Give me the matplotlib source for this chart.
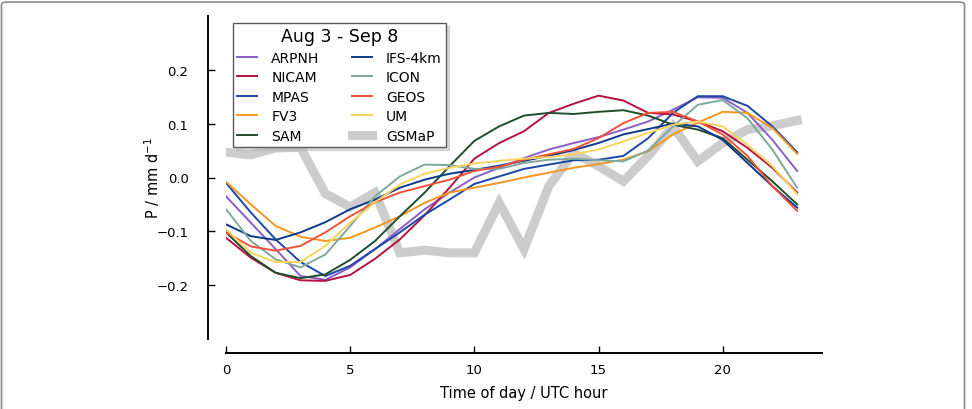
import matplotlib
matplotlib.use("Agg")
import matplotlib.pyplot as plt
from matplotlib import patches

# diurnal cycle of precipitation anomaly, hourly
hours = list(range(24))

arpnh = [-0.035, -0.084, -0.133, -0.183, -0.19, -0.167, -0.133, -0.096, -0.059, -0.028, 0.0, 0.018,
         0.036, 0.052, 0.064, 0.075, 0.089, 0.104, 0.126, 0.149, 0.148, 0.12, 0.07, 0.012]
nicam = [-0.112, -0.149, -0.177, -0.191, -0.192, -0.181, -0.151, -0.115, -0.07, -0.019, 0.035, 0.064,
         0.086, 0.12, 0.137, 0.152, 0.143, 0.12, 0.117, 0.104, 0.086, 0.055, 0.018, -0.028]
mpas = [-0.01, -0.065, -0.115, -0.157, -0.183, -0.164, -0.133, -0.102, -0.069, -0.041, -0.012, 0.002,
        0.016, 0.024, 0.032, 0.033, 0.04, 0.073, 0.12, 0.151, 0.151, 0.133, 0.095, 0.047]
fv3 = [-0.008, -0.05, -0.09, -0.11, -0.118, -0.112, -0.093, -0.072, -0.047, -0.028, -0.019, -0.01,
       0.0, 0.009, 0.018, 0.025, 0.033, 0.049, 0.08, 0.102, 0.122, 0.12, 0.092, 0.044]
sam = [-0.102, -0.146, -0.177, -0.187, -0.18, -0.153, -0.118, -0.072, -0.028, 0.021, 0.068, 0.095,
       0.115, 0.12, 0.118, 0.122, 0.125, 0.115, 0.098, 0.089, 0.073, 0.033, -0.007, -0.05]
ifs_4km = [-0.087, -0.109, -0.116, -0.102, -0.083, -0.059, -0.041, -0.019, -0.004, 0.007, 0.014, 0.022,
           0.031, 0.04, 0.051, 0.064, 0.08, 0.09, 0.1, 0.095, 0.07, 0.027, -0.016, -0.056]
icon = [-0.059, -0.118, -0.152, -0.167, -0.143, -0.09, -0.035, 0.002, 0.024, 0.023, 0.016, 0.016,
        0.027, 0.033, 0.035, 0.032, 0.03, 0.05, 0.095, 0.135, 0.144, 0.11, 0.052, -0.019]
geos = [-0.102, -0.128, -0.136, -0.127, -0.102, -0.072, -0.046, -0.028, -0.016, -0.004, 0.012, 0.02,
        0.033, 0.043, 0.053, 0.073, 0.101, 0.12, 0.122, 0.104, 0.08, 0.04, -0.016, -0.062]
um = [-0.096, -0.14, -0.157, -0.157, -0.127, -0.084, -0.046, -0.013, 0.007, 0.018, 0.026, 0.031,
      0.035, 0.038, 0.043, 0.052, 0.067, 0.083, 0.098, 0.104, 0.095, 0.061, 0.021, -0.031]
gsmap = [0.047, 0.042, 0.055, 0.056, -0.03, -0.055, -0.028, -0.14, -0.135, -0.14, -0.14, -0.047,
         -0.133, -0.016, 0.046, 0.021, -0.007, 0.04, 0.095, 0.03, 0.064, 0.089, 0.096, 0.106]

# legend order is column-wise: left column first
models = [
    ("ARPNH", arpnh, "#8a5ec6"),
    ("NICAM", nicam, "#b5123f"),
    ("MPAS", mpas, "#1c47a6"),
    ("FV3", fv3, "#f5961e"),
    ("SAM", sam, "#1e4f2d"),
    ("IFS-4km", ifs_4km, "#0d398b"),
    ("ICON", icon, "#7fa89c"),
    ("GEOS", geos, "#f0523a"),
    ("UM", um, "#f7d45a"),
]

fig = plt.figure(figsize=(9.72, 4.10), dpi=100)
ax = fig.add_axes([226 / 972, 70 / 410, 596 / 972, 323 / 410])

for name, vals, color in models:
    ax.plot(hours, vals, color=color, lw=1.4, label=name, zorder=3)
ax.plot(hours, gsmap, color="#cccccc", lw=6.5, label="GSMaP", zorder=2, solid_joinstyle="miter")

ax.set_xlim(0, 24)
ax.set_ylim(-0.3, 0.3)
ax.set_xticks([0, 5, 10, 15, 20])
ax.set_yticks([-0.2, -0.1, 0.0, 0.1, 0.2])

for side in ["top", "right"]:
    ax.spines[side].set_visible(False)
ax.spines["left"].set_position(("outward", 13))
ax.spines["bottom"].set_position(("outward", 10))
for side in ["left", "bottom"]:
    ax.spines[side].set_linewidth(1.4)

ax.tick_params(direction="in", length=5, width=1, labelsize=9.5)
ax.tick_params(axis="y", pad=14)
ax.tick_params(axis="x", pad=7)

ax.set_xlabel("Time of day / UTC hour", fontsize=10.5, labelpad=7)
ax.set_ylabel("P / mm d$^{-1}$", fontsize=10.5, labelpad=-4)

leg = ax.legend(loc="upper left", ncol=2, title="Aug 3 - Sep 8", fontsize=10, title_fontsize=12.5,
                shadow={"color": "0.72"}, fancybox=False, handlelength=1.45, handletextpad=1.0,
                columnspacing=2.35, labelspacing=0.4, borderpad=0.3)
leg.get_frame().set_edgecolor("0.35")
leg.get_frame().set_linewidth(1.0)

# light rounded border around the whole figure
border = patches.FancyBboxPatch((1.5 / 972, -0.05), 963 / 972, 1.05 - 3 / 410,
                                boxstyle="round,pad=0,rounding_size=0.006",
                                transform=fig.transFigure, fill=False,
                                edgecolor="#8a8a8a", lw=1.2)
fig.patches.append(border)

fig.savefig("out.png", dpi=100)
